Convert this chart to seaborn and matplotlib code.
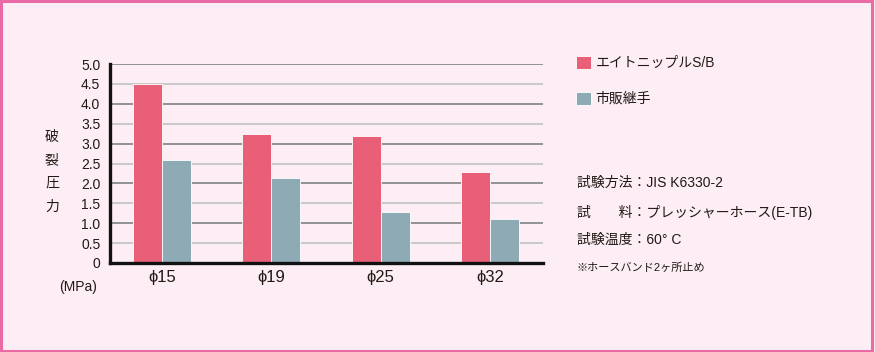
import matplotlib
matplotlib.use("Agg")
import matplotlib.pyplot as plt
import seaborn as sns
import pandas as pd
import numpy as np
from matplotlib.patches import Rectangle

# ---- data ----
sizes = ["ϕ15", "ϕ19", "ϕ25", "ϕ32"]
series_names = ["エイトニップルS/B", "市販継手"]
eight_nipple = [4.50, 3.24, 3.19, 2.29]
commercial = [2.59, 2.13, 1.27, 1.11]
y_ticks = [0, 0.5, 1.0, 1.5, 2.0, 2.5, 3.0, 3.5, 4.0, 4.5, 5.0]
y_tick_labels = ["0", "0.5", "1.0", "1.5", "2.0", "2.5", "3.0", "3.5", "4.0", "4.5", "5.0"]
notes = ["試験方法：JIS K6330-2",
         "試　　料：プレッシャーホース(E-TB)",
         "試験温度：60° C"]
footnote = "※ホースバンド2ヶ所止め"

df = pd.DataFrame({
    "size": sizes * 2,
    "series": [series_names[0]] * len(sizes) + [series_names[1]] * len(sizes),
    "value": eight_nipple + commercial,
})

sns.set_theme(style="white")
plt.rcParams["font.family"] = ["Liberation Sans", "Noto Sans CJK JP", "DejaVu Sans"]

BG = "#fdeef5"
RED = "#e95f77"
BLUE = "#8eaab5"
TXT = "#231815"

fig = plt.figure(figsize=(8.75, 3.52), dpi=100, facecolor=BG)
ax = fig.add_axes([110 / 875, 1 - 263 / 352, (543 - 110) / 875, (263 - 64) / 352])
ax.set_facecolor(BG)

sns.barplot(data=df, x="size", y="value", hue="series", order=sizes,
            hue_order=series_names, palette=[RED, BLUE], width=0.53,
            edgecolor="white", linewidth=0.6, saturation=1, ax=ax, zorder=3)

ax.set_ylim(0, 5)
ax.set_xlim(-0.476, 3.486)
ax.set_yticks(y_ticks)
ax.set_yticklabels(y_tick_labels)
ax.set_xlabel("")
ax.set_ylabel("")
ax.tick_params(axis="y", length=0, pad=7, labelsize=10, labelcolor=TXT)
ax.tick_params(axis="x", length=0, pad=5, labelsize=12, labelcolor=TXT)

ax.grid(axis="y", zorder=0)
for i, gl in enumerate(ax.get_ygridlines()):
    if i % 2 == 0:
        gl.set_color("#8a8a8a")
        gl.set_linewidth(1.3)
    else:
        gl.set_color("#bdbdbd")
        gl.set_linewidth(1.1)
ax.set_axisbelow(True)

for s in ["top", "right"]:
    ax.spines[s].set_visible(False)
for s in ["left", "bottom"]:
    ax.spines[s].set_color("#111111")
    ax.spines[s].set_linewidth(2.4)
    ax.spines[s].set_zorder(5)

# y-axis label stacked vertically
for ch, yy in zip("破裂圧力", [137, 160, 183, 207]):
    fig.text(52 / 875, 1 - yy / 352, ch, ha="center", va="center",
             fontsize=10, color=TXT)
fig.text(78 / 875, 1 - 287 / 352, "(MPa)", ha="center", va="center",
         fontsize=10, color=TXT)

# legend
handles, labels = ax.get_legend_handles_labels()
ax.legend(handles, labels, loc="upper left",
          bbox_to_anchor=(576 / 875, 1 - 56 / 352), bbox_transform=fig.transFigure,
          frameon=False, fontsize=10, handlelength=1.05, handleheight=1.05,
          handletextpad=0.35, labelspacing=1.55, borderpad=0, borderaxespad=0,
          labelcolor=TXT)

for txt, yy in zip(notes, [183, 212, 240]):
    fig.text(577 / 875, 1 - yy / 352, txt, ha="left", va="center",
             fontsize=10, color=TXT)
fig.text(577 / 875, 1 - 268 / 352, footnote, ha="left", va="center",
         fontsize=8, color=TXT)

# pink frame
fig.patches.append(Rectangle((0.001, 0.003), 0.996, 0.994, transform=fig.transFigure,
                             fill=False, edgecolor="#ea6aa5", linewidth=2.2))

fig.savefig("out.png", dpi=100, facecolor=BG)
